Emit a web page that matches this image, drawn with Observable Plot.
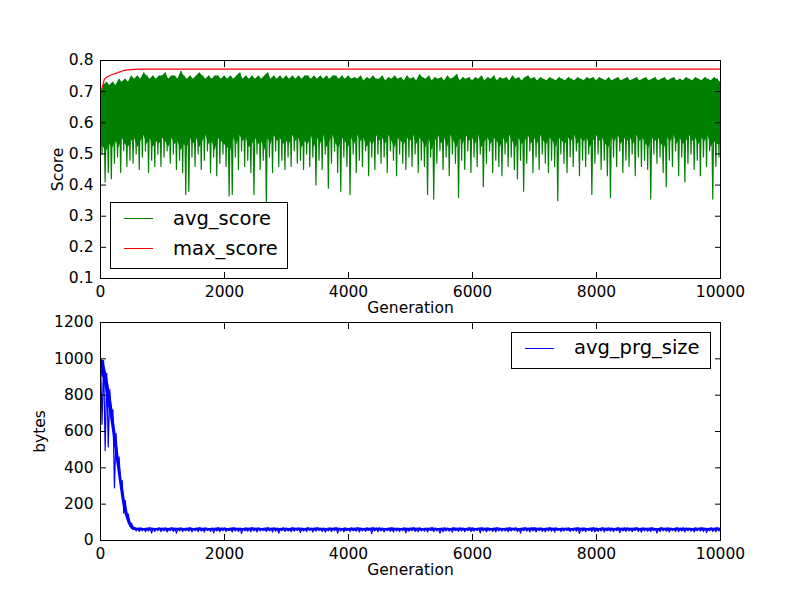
<!DOCTYPE html>
<html>
<head>
<meta charset="utf-8">
<script src="https://cdn.jsdelivr.net/npm/d3@7"></script>
<script src="https://cdn.jsdelivr.net/npm/@observablehq/plot@0.6"></script>
<style>
  html, body { margin: 0; padding: 0; background: #fff; }
  #chart { position: relative; width: 800px; height: 600px; background: #fff; font-family: "DejaVu Sans", sans-serif; }
  #chart svg { display: block; }
  .legend { position: absolute; box-sizing: border-box; border: 1px solid #000; background: #fff; }
  .swatch { position: absolute; height: 0; border-top: 1px solid; width: 29px; }
  .ltext { position: absolute; font-size: 19.5px; line-height: 19.5px; white-space: nowrap; color: #000; }
</style>
</head>
<body>
<div id="chart"></div>
<script>
// ---------------- data ----------------
const genStep = 50;            // sampled every 50 generations: high at g, low at g+25
const xTicks = [0, 2000, 4000, 6000, 8000, 10000];
const scoreTicks = [0.1, 0.2, 0.3, 0.4, 0.5, 0.6, 0.7, 0.8];
const bytesTicks = [0, 200, 400, 600, 800, 1000, 1200];

// avg_score upper envelope (gen 0, 50, ..., 10000)
const avgScoreHigh = [
  0.68,0.72,0.73,0.72,0.73,0.72,0.74,0.73,0.74,0.73,
  0.75,0.74,0.75,0.74,0.76,0.75,0.74,0.75,0.74,0.75,
  0.75,0.76,0.74,0.75,0.75,0.74,0.765,0.75,0.74,0.75,
  0.74,0.75,0.76,0.75,0.74,0.75,0.74,0.75,0.75,0.74,
  0.75,0.74,0.75,0.74,0.75,0.76,0.74,0.75,0.74,0.75,
  0.74,0.75,0.74,0.75,0.76,0.74,0.75,0.74,0.75,0.74,
  0.75,0.74,0.75,0.74,0.75,0.74,0.75,0.75,0.74,0.75,
  0.74,0.75,0.74,0.75,0.74,0.75,0.75,0.74,0.75,0.74,
  0.75,0.74,0.745,0.74,0.75,0.735,0.745,0.74,0.75,0.74,
  0.74,0.75,0.735,0.745,0.74,0.75,0.74,0.745,0.735,0.75,
  0.74,0.745,0.735,0.755,0.745,0.74,0.75,0.735,0.745,0.74,
  0.745,0.735,0.75,0.74,0.745,0.755,0.735,0.745,0.74,0.745,
  0.735,0.745,0.74,0.75,0.735,0.745,0.74,0.75,0.735,0.745,
  0.74,0.745,0.735,0.75,0.74,0.745,0.735,0.745,0.75,0.74,
  0.745,0.735,0.745,0.74,0.735,0.745,0.74,0.735,0.745,0.74,
  0.735,0.745,0.74,0.735,0.745,0.74,0.735,0.745,0.74,0.745,
  0.735,0.745,0.74,0.735,0.745,0.735,0.74,0.745,0.735,0.74,
  0.745,0.735,0.74,0.745,0.735,0.74,0.745,0.735,0.74,0.745,
  0.735,0.74,0.745,0.735,0.74,0.745,0.735,0.74,0.735,0.745,
  0.74,0.735,0.745,0.74,0.735,0.745,0.74,0.735,0.745,0.74,
  0.73
];
// avg_score floor of the dense core band (gen 0, 50, ..., 10000)
const avgScoreFloor = [
  0.53,0.52,0.51,0.53,0.52,0.54,0.52,0.55,0.53,0.52,
  0.54,0.55,0.52,0.54,0.56,0.53,0.55,0.52,0.54,0.53,
  0.55,0.54,0.52,0.55,0.53,0.54,0.51,0.53,0.52,0.55,
  0.53,0.55,0.52,0.54,0.56,0.53,0.54,0.51,0.55,0.54,
  0.53,0.52,0.51,0.55,0.53,0.56,0.54,0.55,0.52,0.53,
  0.55,0.53,0.54,0.51,0.55,0.53,0.56,0.54,0.55,0.53,
  0.54,0.53,0.56,0.54,0.55,0.52,0.54,0.53,0.56,0.52,
  0.55,0.53,0.56,0.52,0.54,0.56,0.53,0.52,0.55,0.54,
  0.52,0.55,0.53,0.56,0.54,0.55,0.52,0.54,0.53,0.56,
  0.54,0.55,0.53,0.56,0.54,0.52,0.55,0.54,0.53,0.55,
  0.54,0.56,0.53,0.55,0.54,0.52,0.55,0.51,0.54,0.56,
  0.53,0.55,0.52,0.56,0.54,0.52,0.55,0.53,0.56,0.54,
  0.55,0.53,0.56,0.52,0.54,0.55,0.53,0.55,0.54,0.52,
  0.55,0.53,0.56,0.54,0.52,0.55,0.53,0.54,0.56,0.53,
  0.55,0.53,0.56,0.54,0.53,0.55,0.54,0.52,0.55,0.54,
  0.53,0.55,0.54,0.56,0.53,0.55,0.54,0.55,0.52,0.54,
  0.56,0.54,0.55,0.53,0.52,0.55,0.54,0.56,0.53,0.55,
  0.54,0.55,0.53,0.56,0.54,0.55,0.53,0.52,0.55,0.54,
  0.55,0.53,0.52,0.55,0.54,0.56,0.53,0.55,0.53,0.54,
  0.56,0.54,0.55,0.53,0.55,0.54,0.56,0.52,0.54,0.53,
  0.53
];
// avg_score lower excursions (gen 25, 75, ..., 9975)
const avgScoreLow = [
  0.50,0.41,0.44,0.42,0.47,0.49,0.44,0.51,0.46,0.48,
  0.47,0.50,0.45,0.49,0.51,0.44,0.48,0.46,0.50,0.46,
  0.49,0.51,0.47,0.50,0.45,0.48,0.44,0.37,0.38,0.49,
  0.46,0.50,0.45,0.48,0.51,0.44,0.49,0.43,0.47,0.50,
  0.46,0.365,0.37,0.49,0.45,0.51,0.46,0.48,0.44,0.37,
  0.50,0.45,0.48,0.345,0.49,0.44,0.51,0.46,0.48,0.45,
  0.49,0.46,0.51,0.47,0.48,0.45,0.50,0.46,0.49,0.40,
  0.48,0.45,0.50,0.39,0.47,0.51,0.44,0.38,0.49,0.46,
  0.37,0.50,0.44,0.48,0.46,0.51,0.43,0.49,0.45,0.50,
  0.47,0.49,0.44,0.51,0.48,0.43,0.50,0.47,0.45,0.49,
  0.46,0.50,0.44,0.48,0.46,0.37,0.49,0.355,0.47,0.51,
  0.45,0.49,0.43,0.50,0.47,0.36,0.48,0.45,0.51,0.44,
  0.49,0.46,0.50,0.395,0.47,0.51,0.44,0.48,0.46,0.43,
  0.50,0.46,0.49,0.45,0.42,0.48,0.38,0.47,0.51,0.44,
  0.49,0.45,0.50,0.47,0.44,0.48,0.46,0.35,0.50,0.47,
  0.44,0.49,0.46,0.51,0.43,0.48,0.46,0.50,0.37,0.47,
  0.50,0.45,0.48,0.43,0.36,0.49,0.46,0.51,0.44,0.48,
  0.46,0.50,0.43,0.49,0.46,0.48,0.45,0.355,0.50,0.47,
  0.49,0.44,0.395,0.48,0.46,0.51,0.43,0.49,0.41,0.47,
  0.50,0.45,0.48,0.43,0.49,0.46,0.51,0.355,0.46,0.49
];
// max_score
const maxScoreGen = [0, 10, 27, 65, 110, 190, 280, 376, 484, 600, 10000];
const maxScoreVal = [0.685, 0.70, 0.714, 0.741, 0.748, 0.755, 0.761, 0.768, 0.771, 0.772, 0.772];

// avg_prg_size upper envelope (gen 0, 50, ..., 10000)
const prgSizeHigh = [
  1000,990,920,830,720,590,460,330,220,145,
  95,72,67,69,66,68,70,67,66,69,
  67,69,66,70,68,67,69,66,68,70,
  66,68,70,67,69,66,68,67,70,68,
  69,66,68,70,67,68,66,69,67,70,
  67,69,66,68,70,67,69,68,66,69,
  68,66,70,67,69,68,66,70,67,68,
  70,67,68,66,69,67,70,68,66,69,
  66,69,67,70,68,66,69,67,70,68,
  69,67,66,68,70,67,68,66,69,67,
  68,70,67,69,66,68,67,70,68,66,
  67,69,68,66,70,67,69,68,66,70,
  69,66,68,70,67,69,66,68,70,67,
  66,68,70,67,69,66,68,70,67,69,
  70,67,69,66,68,70,67,69,66,68,
  67,69,66,68,70,67,69,66,68,70,
  68,66,70,67,69,68,66,70,67,69,
  69,67,68,70,66,69,67,68,70,66,
  66,70,67,69,68,66,70,67,69,68,
  68,66,69,67,70,68,66,69,67,70,
  68
];
// avg_prg_size floor of the dense core band (gen 0, 50, ..., 10000)
const prgSizeFloor = [
  920,890,800,700,590,460,340,220,140,90,
  62,55,53,52,54,51,53,52,54,53,
  52,54,51,53,52,54,53,51,52,54,
  53,52,54,51,53,52,54,52,51,53,
  54,52,51,53,54,52,53,51,52,54,
  52,53,54,51,52,53,54,52,51,53,
  53,51,52,54,53,52,51,54,53,52,
  54,52,53,51,52,54,53,52,54,51,
  52,54,51,53,52,54,51,53,52,54,
  53,52,54,52,51,53,52,54,53,51,
  52,53,51,54,52,53,54,51,52,53,
  54,51,53,52,54,51,52,53,54,52,
  51,53,54,52,53,51,54,52,53,54,
  53,52,51,54,52,53,51,54,52,53,
  52,54,53,51,52,54,53,51,54,52,
  54,51,52,53,54,52,51,53,52,54,
  51,53,54,52,51,53,54,52,53,51,
  53,52,51,54,53,52,54,51,52,53,
  52,54,53,51,54,52,53,54,51,52,
  54,52,51,53,52,54,51,53,54,52,
  53
];
// avg_prg_size lower excursions (gen 25, 75, ..., 9975)
const prgSizeLow = [
  640,495,515,700,290,440,310,150,125,80,
  60,52,50,54,48,53,41,50,55,49,
  52,47,54,50,40,53,49,55,51,47,
  54,49,52,46,55,50,42,53,48,54,
  50,55,47,52,49,39,54,51,48,53,
  47,52,55,49,53,46,51,40,54,50,
  53,48,51,55,44,52,49,54,47,51,
  55,50,46,53,49,54,41,52,48,55,
  49,54,51,47,53,50,55,38,52,48,
  52,47,55,50,46,53,49,54,42,51,
  54,50,48,53,51,47,55,49,52,40,
  48,53,51,46,54,50,52,48,55,49,
  51,55,42,52,48,54,50,47,53,51,
  53,48,52,55,49,41,54,51,47,52,
  47,54,50,48,53,51,46,55,49,52,
  55,49,53,51,39,52,48,54,50,47,
  50,52,47,54,51,48,55,43,52,49,
  52,48,55,50,46,53,51,49,54,41,
  49,53,51,47,55,50,48,52,46,54,
  51,47,54,52,49,44,53,50,48,52
];

// ---------------- build tables ----------------
function series(high, low) {
  const out = [];
  for (let i = 0; i < high.length; i++) {
    out.push({gen: i * genStep, value: high[i]});
    if (i < low.length) out.push({gen: i * genStep + genStep / 2, value: low[i]});
  }
  return out;
}
function band(high, floor) {
  return high.map((h, i) => ({gen: i * genStep, hi: h, lo: floor[i]}));
}
const avgScore = series(avgScoreHigh, avgScoreLow);
const avgScoreBand = band(avgScoreHigh, avgScoreFloor);
const maxScore = maxScoreGen.map((g, i) => ({gen: g, value: maxScoreVal[i]}));
const prgSize = series(prgSizeHigh, prgSizeLow);
const prgSizeBand = band(prgSizeHigh, prgSizeFloor);

const font = "'DejaVu Sans', sans-serif";
const tickLen = 6;
const lw = 1.2;

function axes(yTicks, yFmt, yLabel, yLabelDx) {
  return [
    Plot.frame({stroke: "#000", strokeWidth: 1}),
    Plot.axisX({anchor: "bottom", ticks: xTicks, tickSize: -tickLen, tickPadding: 13, tickFormat: d3.format("d"), label: null}),
    Plot.axisX({anchor: "top", ticks: xTicks, tickSize: -tickLen, tickFormat: () => "", label: null}),
    Plot.axisY({anchor: "left", ticks: yTicks, tickSize: -tickLen, tickPadding: 13, tickFormat: yFmt, label: null}),
    Plot.axisY({anchor: "right", ticks: yTicks, tickSize: -tickLen, tickFormat: () => "", label: null}),
    Plot.text(["Generation"], {frameAnchor: "bottom", text: d => d, lineAnchor: "top", dy: 23, fill: "#000"}),
    Plot.text([yLabel], {frameAnchor: "left", text: d => d, rotate: -90, lineAnchor: "middle", textAnchor: "middle", dx: yLabelDx, fill: "#000"})
  ];
}

const plotStyle = {fontFamily: font, fontSize: "15.5px", color: "#000", background: "transparent", overflow: "visible"};

const topPlot = Plot.plot({
  width: 800, height: 316,
  marginLeft: 100, marginRight: 80, marginTop: 60, marginBottom: 38,
  style: plotStyle,
  x: {domain: [0, 10000]},
  y: {domain: [0.1, 0.8]},
  marks: [
    Plot.areaY(avgScoreBand, {x: "gen", y1: "lo", y2: "hi", fill: "#008000"}),
    Plot.line(avgScore, {x: "gen", y: "value", stroke: "#008000", strokeWidth: lw}),
    Plot.line(maxScore, {x: "gen", y: "value", stroke: "#ff0000", strokeWidth: lw}),
    ...axes(scoreTicks, d3.format(".1f"), "Score", -42.5)
  ]
});

const bottomPlot = Plot.plot({
  width: 800, height: 284,
  marginLeft: 100, marginRight: 80, marginTop: 6, marginBottom: 60,
  style: plotStyle,
  x: {domain: [0, 10000]},
  y: {domain: [0, 1200]},
  marks: [
    Plot.areaY(prgSizeBand, {x: "gen", y1: "lo", y2: "hi", fill: "#0000ff"}),
    Plot.line(prgSize, {x: "gen", y: "value", stroke: "#0000ff", strokeWidth: lw}),
    ...axes(bytesTicks, d3.format("d"), "bytes", -60.5)
  ]
});

const chart = document.getElementById("chart");
chart.appendChild(topPlot);
chart.appendChild(bottomPlot);

// ---------------- legends ----------------
function legend(box, items) {
  const div = document.createElement("div");
  div.className = "legend";
  Object.assign(div.style, {left: box[0] + "px", top: box[1] + "px", width: box[2] + "px", height: box[3] + "px"});
  chart.appendChild(div);
  items.forEach(it => {
    const sw = document.createElement("div");
    sw.className = "swatch";
    Object.assign(sw.style, {left: it.sx + "px", top: it.sy + "px", borderTopColor: it.color});
    chart.appendChild(sw);
    const t = document.createElement("div");
    t.className = "ltext";
    t.textContent = it.label;
    Object.assign(t.style, {left: it.tx + "px", top: it.ty + "px"});
    chart.appendChild(t);
  });
}
legend([110, 202, 178, 67], [
  {label: "avg_score", color: "#008000", sx: 124, sy: 217.5, tx: 173, ty: 208.5},
  {label: "max_score", color: "#ff0000", sx: 124, sy: 247.5, tx: 173, ty: 238.5}
]);
legend([511, 332, 200, 37], [
  {label: "avg_prg_size", color: "#0000ff", sx: 525, sy: 347.5, tx: 574, ty: 337.5}
]);
</script>
</body>
</html>
